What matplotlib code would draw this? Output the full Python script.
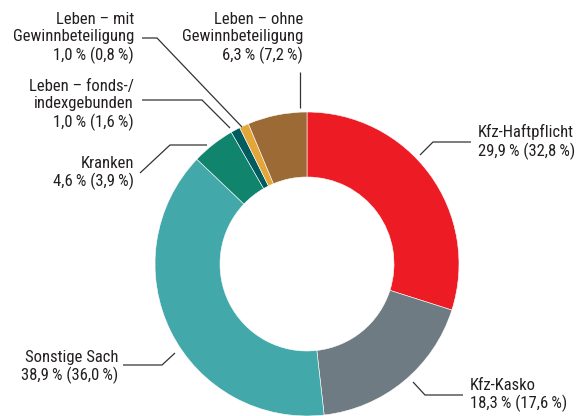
import matplotlib.pyplot as plt

# Anteile in % (Vorjahr in Klammern), im Uhrzeigersinn ab 12 Uhr
names = ["Kfz-Haftpflicht", "Kfz-Kasko", "Sonstige Sach", "Kranken",
         "Leben \u2013 fonds-/\nindexgebunden", "Leben \u2013 mit\nGewinnbeteiligung",
         "Leben \u2013 ohne\nGewinnbeteiligung"]
shares = [29.9, 18.3, 38.9, 4.6, 1.0, 1.0, 6.3]
prev_shares = [32.8, 17.6, 36.0, 3.9, 1.6, 0.8, 7.2]
colors = ["#ED1C24", "#6E7B83", "#43A8A9", "#10846C", "#015C60", "#E2A63A", "#9C6A34"]

W, H = 584, 416
plt.rcParams['font.family'] = ['Roboto Condensed', 'Archivo Narrow', 'Liberation Sans', 'DejaVu Sans']

fig = plt.figure(figsize=(W / 100, H / 100), dpi=100)
ax = fig.add_axes([0, 0, 1, 1])


def p(x, y):
    # Pixelkoordinaten (y von oben) -> Achsenkoordinaten
    return x, H - y


ax.pie(shares, colors=colors, startangle=90, counterclock=False,
       center=p(307, 264), radius=152, frame=True,
       wedgeprops=dict(width=65, edgecolor='white', linewidth=0.4))
ax.set_xlim(0, W)
ax.set_ylim(0, H)
ax.set_aspect('equal')
ax.axis('off')


def fmt(v):
    return f"{v:.1f}".replace(".", ",")


labels = [f"{n}\n{fmt(s)}\u2009% ({fmt(ps)}\u2009%)" for n, s, ps in zip(names, shares, prev_shares)]

# Position der Beschriftung (x, y-Mitte, Ausrichtung) und Führungslinie
layout = [
    ((478, 142, 'left'), [(471, 142), (433, 142), (420, 155)]),
    ((470, 395, 'left'), [(463, 395), (425, 395), (413, 382)]),
    ((118, 367, 'right'), [(123, 365), (162, 365), (175, 353)]),
    ((134, 173, 'right'), [(140, 173), (170, 145), (207, 145)]),
    ((134, 105, 'right'), [(142, 100), (202, 100), (230, 128)]),
    ((134, 38, 'right'), [(142, 38), (157, 38), (242, 127)]),
    ((303, 38, 'right'), [(300, 72), (300, 108)]),
]

for lab, ((tx, ty, ha), pts) in zip(labels, layout):
    x, y = p(tx, ty)
    ax.text(x, y, lab, ha=ha, va='center', multialignment=ha,
            fontsize=12, color='#231F20', linespacing=1.15)
    xs = [p(*q)[0] for q in pts]
    ys = [p(*q)[1] for q in pts]
    ax.plot(xs, ys, color='#333333', lw=0.9, solid_capstyle='butt')

fig.savefig("out.png", dpi=100)
